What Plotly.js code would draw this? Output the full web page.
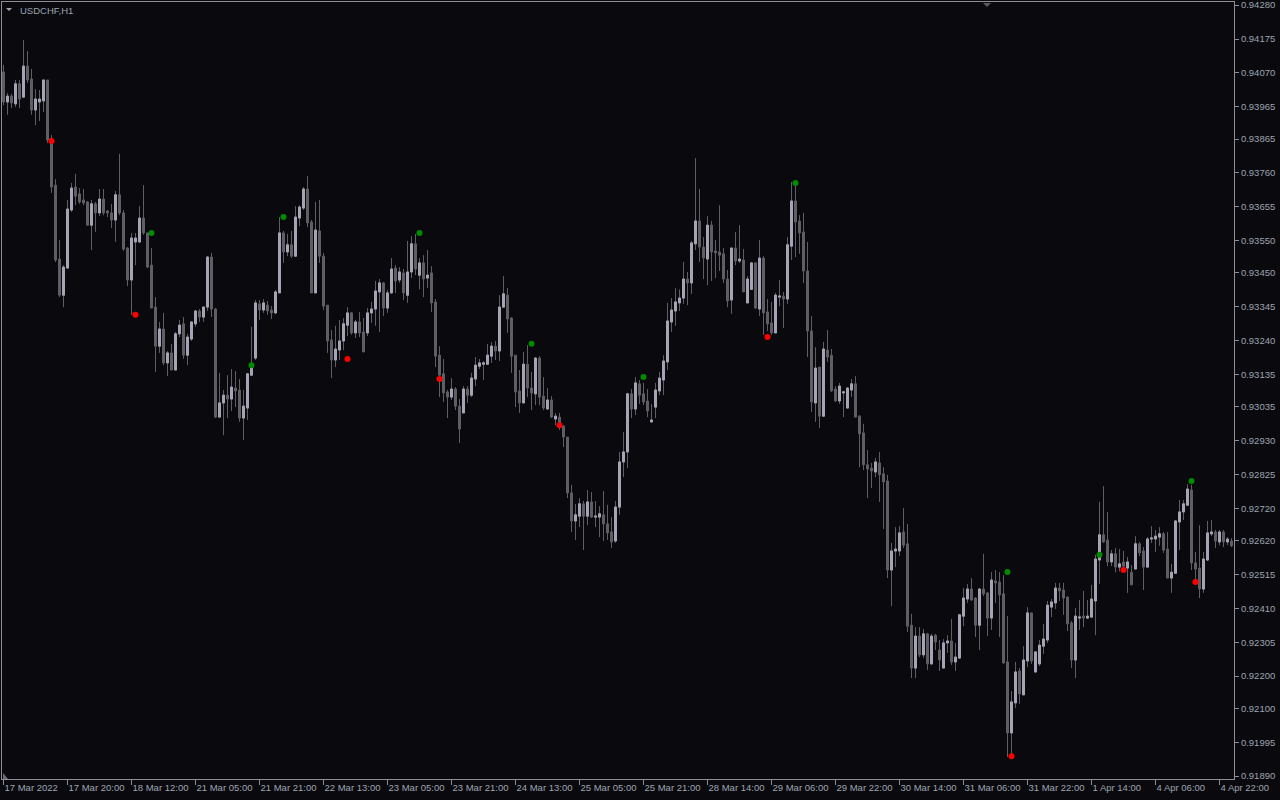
<!DOCTYPE html>
<html><head><meta charset="utf-8">
<script src="https://cdn.plot.ly/plotly-3.0.1.min.js"></script>
<style>html,body{margin:0;padding:0;background:#0a0a0e;overflow:hidden}#chart{width:1280px;height:800px}</style>
</head><body><div id="chart"></div>
<script>
// USDCHF H1 candles, one entry per hourly bar (17 Mar 2022 04:00 onward)
const openP=[0.94073,0.93980,0.93998,0.93974,0.94036,0.93995,0.94091,0.94051,0.93955,0.93980,
0.93983,0.94048,0.93853,0.93722,0.93493,0.93381,0.93465,0.93645,0.93716,0.93695,
0.93676,0.93670,0.93598,0.93664,0.93636,0.93679,0.93642,0.93636,0.93614,0.93692,
0.93636,0.93527,0.93428,0.93546,0.93546,0.93620,0.93574,0.93474,0.93344,0.93223,
0.93276,0.93171,0.93202,0.93149,0.93261,0.93292,0.93195,0.93245,0.93292,0.93332,
0.93313,0.93344,0.93499,0.93338,0.93003,0.93047,0.93071,0.93059,0.93093,0.93087,
0.93000,0.93031,0.93133,0.93186,0.93354,0.93335,0.93350,0.93335,0.93326,0.93388,
0.93574,0.93515,0.93537,0.93502,0.93620,0.93651,0.93710,0.93608,0.93388,0.93580,
0.93502,0.93350,0.93242,0.93180,0.93211,0.93239,0.93288,0.93326,0.93264,0.93298,
0.93267,0.93264,0.93326,0.93338,0.93391,0.93419,0.93341,0.93388,0.93465,0.93428,
0.93450,0.93381,0.93453,0.93540,0.93443,0.93481,0.93434,0.93450,0.93360,0.93195,
0.93137,0.93081,0.93065,0.93090,0.93037,0.93016,0.93090,0.93071,0.93121,0.93161,
0.93167,0.93167,0.93192,0.93223,0.93208,0.93344,0.93381,0.93310,0.93195,0.93084,
0.93047,0.93167,0.93093,0.93075,0.93186,0.93068,0.93028,0.93056,0.92997,0.93003,
0.92975,0.92941,0.92768,0.92681,0.92696,0.92734,0.92696,0.92740,0.92693,0.92693,
0.92700,0.92672,0.92647,0.92619,0.92724,0.92864,0.92895,0.93075,0.93028,0.93106,
0.93075,0.93053,0.92988,0.93034,0.93084,0.93118,0.93174,0.93298,0.93332,0.93357,
0.93372,0.93431,0.93419,0.93540,0.93611,0.93530,0.93493,0.93598,0.93518,0.93515,
0.93509,0.93431,0.93366,0.93527,0.93487,0.93490,0.93357,0.93399,0.93481,0.93338,
0.93496,0.93329,0.93295,0.93264,0.93375,0.93378,0.93369,0.93533,0.93673,0.93611,
0.93577,0.93456,0.93270,0.93047,0.93158,0.93006,0.93211,0.93195,0.93090,0.93053,
0.93078,0.93031,0.93087,0.93106,0.93006,0.92954,0.92855,0.92845,0.92833,0.92861,
0.92827,0.92805,0.92529,0.92588,0.92588,0.92647,0.92610,0.92358,0.92225,0.92324,
0.92266,0.92331,0.92238,0.92327,0.92281,0.92225,0.92303,0.92309,0.92244,0.92256,
0.92386,0.92439,0.92470,0.92442,0.92358,0.92470,0.92458,0.92380,0.92495,0.92492,
0.92455,0.92244,0.92024,0.92117,0.92216,0.92142,0.92247,0.92396,0.92213,0.92238,
0.92293,0.92312,0.92414,0.92427,0.92473,0.92467,0.92445,0.92365,0.92250,0.92380,
0.92386,0.92380,0.92383,0.92433,0.92560,0.92638,0.92622,0.92554,0.92579,0.92538,
0.92554,0.92535,0.92522,0.92532,0.92610,0.92588,0.92538,0.92625,0.92625,0.92631,
0.92641,0.92594,0.92504,0.92519,0.92678,0.92709,0.92730,0.92777,0.92551,0.92535,
0.92470,0.92560,0.92641,0.92647,0.92616,0.92647,0.92616,0.92619];
const highP=[0.94095,0.94008,0.94005,0.94048,0.94048,0.94172,0.94138,0.94082,0.94020,0.94017,
0.94048,0.94048,0.93877,0.93741,0.93552,0.93474,0.93676,0.93729,0.93757,0.93713,
0.93710,0.93673,0.93676,0.93670,0.93710,0.93710,0.93645,0.93664,0.93704,0.93819,
0.93645,0.93530,0.93574,0.93574,0.93657,0.93722,0.93574,0.93527,0.93375,0.93298,
0.93326,0.93208,0.93230,0.93267,0.93304,0.93313,0.93261,0.93298,0.93335,0.93338,
0.93347,0.93502,0.93512,0.93341,0.93140,0.93087,0.93133,0.93152,0.93146,0.93121,
0.93087,0.93140,0.93283,0.93366,0.93366,0.93369,0.93363,0.93347,0.93397,0.93623,
0.93580,0.93571,0.93580,0.93657,0.93660,0.93716,0.93750,0.93614,0.93670,0.93676,
0.93512,0.93350,0.93273,0.93286,0.93304,0.93310,0.93344,0.93329,0.93304,0.93329,
0.93310,0.93341,0.93360,0.93425,0.93431,0.93422,0.93397,0.93496,0.93474,0.93468,
0.93462,0.93549,0.93564,0.93571,0.93496,0.93505,0.93521,0.93471,0.93369,0.93223,
0.93183,0.93087,0.93124,0.93096,0.93059,0.93099,0.93099,0.93140,0.93189,0.93183,
0.93177,0.93230,0.93236,0.93239,0.93381,0.93440,0.93403,0.93313,0.93195,0.93149,
0.93205,0.93226,0.93143,0.93189,0.93192,0.93127,0.93093,0.93068,0.93016,0.93016,
0.92978,0.92941,0.92793,0.92734,0.92752,0.92743,0.92777,0.92771,0.92743,0.92727,
0.92774,0.92731,0.92693,0.92743,0.92895,0.92957,0.93078,0.93090,0.93127,0.93118,
0.93109,0.93090,0.93044,0.93109,0.93143,0.93195,0.93357,0.93372,0.93403,0.93399,
0.93484,0.93453,0.93549,0.93806,0.93710,0.93561,0.93626,0.93611,0.93552,0.93660,
0.93527,0.93459,0.93527,0.93577,0.93598,0.93524,0.93440,0.93484,0.93484,0.93552,
0.93502,0.93369,0.93360,0.93388,0.93428,0.93391,0.93561,0.93732,0.93722,0.93629,
0.93636,0.93546,0.93316,0.93220,0.93158,0.93236,0.93273,0.93214,0.93099,0.93109,
0.93081,0.93096,0.93121,0.93130,0.93009,0.92982,0.92901,0.92861,0.92876,0.92895,
0.92848,0.92824,0.92613,0.92662,0.92665,0.92721,0.92672,0.92393,0.92352,0.92352,
0.92346,0.92334,0.92331,0.92331,0.92312,0.92315,0.92327,0.92377,0.92303,0.92390,
0.92473,0.92486,0.92504,0.92445,0.92473,0.92579,0.92461,0.92523,0.92529,0.92523,
0.92513,0.92386,0.92154,0.92244,0.92225,0.92293,0.92414,0.92396,0.92278,0.92312,
0.92362,0.92433,0.92439,0.92489,0.92489,0.92489,0.92448,0.92371,0.92411,0.92436,
0.92464,0.92436,0.92483,0.92576,0.92740,0.92789,0.92709,0.92591,0.92597,0.92594,
0.92588,0.92569,0.92544,0.92634,0.92616,0.92600,0.92631,0.92665,0.92653,0.92662,
0.92647,0.92647,0.92548,0.92684,0.92746,0.92746,0.92795,0.92793,0.92585,0.92668,
0.92585,0.92681,0.92684,0.92653,0.92653,0.92653,0.92631,0.92628];
const lowP=[0.93970,0.93940,0.93961,0.93964,0.93961,0.93992,0.94039,0.93940,0.93908,0.93921,
0.93949,0.93853,0.93698,0.93484,0.93375,0.93344,0.93465,0.93639,0.93660,0.93664,
0.93660,0.93598,0.93521,0.93577,0.93626,0.93629,0.93623,0.93589,0.93546,0.93629,
0.93518,0.93409,0.93320,0.93474,0.93543,0.93568,0.93465,0.93341,0.93143,0.93202,
0.93164,0.93130,0.93149,0.93149,0.93251,0.93183,0.93164,0.93239,0.93283,0.93298,
0.93298,0.93332,0.93313,0.93000,0.93003,0.92947,0.93000,0.93022,0.93034,0.92988,
0.92932,0.92994,0.93130,0.93180,0.93304,0.93326,0.93320,0.93307,0.93323,0.93388,
0.93481,0.93502,0.93496,0.93499,0.93595,0.93645,0.93592,0.93388,0.93388,0.93481,
0.93335,0.93202,0.93124,0.93158,0.93180,0.93211,0.93254,0.93258,0.93248,0.93251,
0.93205,0.93254,0.93295,0.93286,0.93267,0.93316,0.93326,0.93385,0.93388,0.93419,
0.93366,0.93357,0.93434,0.93443,0.93399,0.93375,0.93403,0.93329,0.93158,0.93065,
0.93050,0.93000,0.93056,0.93025,0.92923,0.93016,0.93047,0.93065,0.93099,0.93152,
0.93118,0.93167,0.93171,0.93180,0.93177,0.93341,0.93264,0.93140,0.93034,0.93016,
0.93047,0.93065,0.93025,0.93040,0.93040,0.93025,0.93028,0.93000,0.92978,0.92963,
0.92910,0.92752,0.92647,0.92622,0.92662,0.92591,0.92668,0.92690,0.92662,0.92631,
0.92619,0.92622,0.92597,0.92613,0.92700,0.92817,0.92845,0.93000,0.93009,0.93044,
0.93040,0.93003,0.92988,0.93000,0.93071,0.93071,0.93149,0.93267,0.93286,0.93332,
0.93354,0.93350,0.93385,0.93521,0.93484,0.93431,0.93412,0.93425,0.93434,0.93456,
0.93419,0.93344,0.93323,0.93474,0.93481,0.93391,0.93357,0.93397,0.93338,0.93316,
0.93258,0.93270,0.93258,0.93264,0.93347,0.93279,0.93354,0.93490,0.93499,0.93509,
0.93419,0.93189,0.93019,0.92988,0.92969,0.93003,0.93174,0.93081,0.93050,0.93044,
0.93003,0.93031,0.93065,0.93003,0.92848,0.92839,0.92752,0.92783,0.92817,0.92740,
0.92656,0.92504,0.92417,0.92538,0.92572,0.92597,0.92337,0.92194,0.92194,0.92259,
0.92256,0.92219,0.92235,0.92281,0.92216,0.92225,0.92272,0.92235,0.92216,0.92253,
0.92355,0.92427,0.92433,0.92321,0.92281,0.92448,0.92324,0.92343,0.92427,0.92321,
0.92238,0.91949,0.91943,0.92101,0.92114,0.92142,0.92228,0.92238,0.92210,0.92231,
0.92269,0.92303,0.92383,0.92408,0.92433,0.92390,0.92340,0.92225,0.92194,0.92343,
0.92352,0.92377,0.92380,0.92327,0.92486,0.92613,0.92541,0.92541,0.92522,0.92525,
0.92522,0.92458,0.92483,0.92532,0.92572,0.92467,0.92538,0.92613,0.92585,0.92604,
0.92582,0.92504,0.92458,0.92519,0.92591,0.92684,0.92730,0.92529,0.92489,0.92442,
0.92458,0.92557,0.92634,0.92597,0.92606,0.92600,0.92606,0.92600];
const closeP=[0.93980,0.93998,0.93977,0.94036,0.93989,0.94091,0.94048,0.93955,0.93989,0.93989,
0.94048,0.93862,0.93716,0.93490,0.93381,0.93468,0.93648,0.93713,0.93688,0.93670,
0.93667,0.93598,0.93664,0.93636,0.93679,0.93636,0.93636,0.93614,0.93692,0.93636,
0.93524,0.93428,0.93558,0.93558,0.93620,0.93574,0.93468,0.93341,0.93223,0.93276,
0.93171,0.93202,0.93149,0.93261,0.93288,0.93195,0.93251,0.93298,0.93332,0.93313,
0.93344,0.93499,0.93338,0.93003,0.93047,0.93071,0.93059,0.93096,0.93084,0.93000,
0.93037,0.93137,0.93158,0.93357,0.93335,0.93357,0.93332,0.93326,0.93391,0.93574,
0.93515,0.93537,0.93502,0.93623,0.93654,0.93710,0.93605,0.93388,0.93583,0.93502,
0.93347,0.93239,0.93180,0.93214,0.93239,0.93292,0.93326,0.93264,0.93298,0.93264,
0.93205,0.93326,0.93338,0.93394,0.93419,0.93341,0.93388,0.93462,0.93425,0.93453,
0.93388,0.93453,0.93540,0.93462,0.93481,0.93431,0.93443,0.93357,0.93192,0.93133,
0.93078,0.93065,0.93090,0.93037,0.92966,0.93090,0.93071,0.93124,0.93164,0.93171,
0.93171,0.93195,0.93223,0.93208,0.93344,0.93385,0.93307,0.93192,0.93081,0.93047,
0.93167,0.93093,0.93078,0.93186,0.93065,0.93031,0.93056,0.93003,0.93006,0.92978,
0.92941,0.92768,0.92681,0.92700,0.92734,0.92696,0.92740,0.92693,0.92696,0.92703,
0.92672,0.92644,0.92616,0.92724,0.92864,0.92895,0.93075,0.93028,0.93109,0.93071,
0.93050,0.93022,0.92994,0.93087,0.93124,0.93177,0.93301,0.93335,0.93360,0.93372,
0.93431,0.93419,0.93543,0.93611,0.93530,0.93496,0.93598,0.93515,0.93512,0.93505,
0.93431,0.93363,0.93527,0.93487,0.93493,0.93391,0.93431,0.93481,0.93341,0.93496,
0.93326,0.93292,0.93264,0.93381,0.93378,0.93369,0.93537,0.93673,0.93608,0.93574,
0.93456,0.93270,0.93050,0.93155,0.93006,0.93214,0.93189,0.93084,0.93053,0.93099,
0.93081,0.93093,0.93106,0.93003,0.92951,0.92855,0.92842,0.92836,0.92864,0.92824,
0.92802,0.92529,0.92588,0.92594,0.92644,0.92606,0.92355,0.92225,0.92324,0.92266,
0.92331,0.92238,0.92324,0.92306,0.92250,0.92303,0.92309,0.92244,0.92259,0.92390,
0.92442,0.92470,0.92436,0.92358,0.92470,0.92455,0.92380,0.92498,0.92489,0.92452,
0.92241,0.92024,0.92120,0.92213,0.92145,0.92250,0.92396,0.92247,0.92275,0.92296,
0.92315,0.92420,0.92430,0.92473,0.92464,0.92442,0.92362,0.92250,0.92386,0.92383,
0.92380,0.92386,0.92439,0.92563,0.92638,0.92616,0.92554,0.92579,0.92538,0.92548,
0.92541,0.92554,0.92483,0.92610,0.92582,0.92538,0.92625,0.92628,0.92634,0.92641,
0.92591,0.92504,0.92522,0.92681,0.92709,0.92734,0.92780,0.92551,0.92532,0.92470,
0.92563,0.92644,0.92647,0.92619,0.92647,0.92616,0.92625,0.92604];

// indicator dots (bar index, price)
const redIdx=[12,33,86,109,139,191,252,280,298];
const redVal=[0.93859,0.93320,0.93183,0.93121,0.92978,0.93251,0.91952,0.92529,0.92492];
const greenIdx=[37,62,70,104,132,160,198,251,274,297];
const greenVal=[0.93574,0.93164,0.93623,0.93574,0.93230,0.93127,0.93729,0.92523,0.92576,0.92805];

// axis labels
const timeTickIdx=[0,16,32,48,64,80,96,112,128,144,160,176,192,208,224,240,256,272,288,304];
const timeTickText=['17 Mar 2022','17 Mar 20:00','18 Mar 12:00','21 Mar 05:00','21 Mar 21:00','22 Mar 13:00','23 Mar 05:00','23 Mar 21:00','24 Mar 13:00','25 Mar 05:00','25 Mar 21:00','28 Mar 14:00','29 Mar 06:00','29 Mar 22:00','30 Mar 14:00','31 Mar 06:00','31 Mar 22:00','1 Apr 14:00','4 Apr 06:00','4 Apr 22:00'];
const priceTickText=['0.94280','0.94175','0.94070','0.93965','0.93865','0.93760','0.93655','0.93550','0.93450','0.93345','0.93240','0.93135','0.93035','0.92930','0.92825','0.92720','0.92620','0.92515','0.92410','0.92305','0.92200','0.92100','0.91995','0.91890'];

const idx=openP.map((_,i)=>i);
const bodyHi=openP.map((o,i)=>Math.max(o,closeP[i]));
const bodyLo=openP.map((o,i)=>Math.min(o,closeP[i]));

const BG='#0a0a0e', AX='#8e8e94', TXT='#9ea4b2', WICK='#5e5e64', BULL='#a4a4b4';
const FONT='Liberation Sans, Arial, sans-serif';

const traces=[
 {type:'candlestick',x:idx,open:openP,high:highP,low:lowP,close:closeP,
  increasing:{line:{color:WICK,width:1},fillcolor:WICK},
  decreasing:{line:{color:WICK,width:1},fillcolor:WICK},
  whiskerwidth:0,hoverinfo:'skip',showlegend:false},
 {type:'candlestick',x:idx,open:openP,high:bodyHi,low:bodyLo,close:closeP,
  increasing:{line:{color:BULL,width:1},fillcolor:BULL},
  decreasing:{line:{color:'rgba(0,0,0,0)',width:0},fillcolor:'rgba(0,0,0,0)'},
  whiskerwidth:0,hoverinfo:'skip',showlegend:false},
 {type:'scatter',mode:'markers',x:redIdx,y:redVal,marker:{color:'#ff0000',size:6},hoverinfo:'skip',showlegend:false},
 {type:'scatter',mode:'markers',x:greenIdx,y:greenVal,marker:{color:'#008a00',size:6},hoverinfo:'skip',showlegend:false}
];

function px(x){return (x-2)/1232;}
function py(y){return (779-y)/777;}
function tri(pts){return 'M'+pts.map(p=>px(p[0])+','+py(p[1])).join(' L')+' Z';}

const layout={
 width:1280,height:800,
 paper_bgcolor:BG,plot_bgcolor:BG,
 margin:{l:2,r:46,t:2,b:21,pad:0},
 showlegend:false,
 boxgap:0.5,boxgroupgap:0,
 xaxis:{type:'linear',range:[-0.375,307.625],tickvals:timeTickIdx,ticktext:timeTickText,
  ticks:'outside',ticklen:5,tickcolor:AX,tickwidth:1,showline:true,linecolor:AX,linewidth:1,mirror:true,
  showgrid:false,zeroline:false,rangeslider:{visible:false},fixedrange:true,
  tickangle:0,ticklabelposition:'outside right',ticklabeloverflow:'allow',automargin:false,
  tickfont:{family:FONT,size:9.5,color:TXT}},
 yaxis:{side:'right',range:[0.918811,0.942898],tickvals:priceTickText.map(Number),ticktext:priceTickText,
  ticks:'outside',ticklen:4,tickcolor:AX,tickwidth:1,showline:true,linecolor:AX,linewidth:1,mirror:true,
  showgrid:false,zeroline:false,fixedrange:true,ticklabeloverflow:'allow',automargin:false,
  tickfont:{family:FONT,size:9.5,color:TXT}},
 annotations:[
  {xref:'paper',yref:'paper',x:px(18),y:py(10),xanchor:'left',yanchor:'middle',text:'USDCHF,H1',showarrow:false,
   font:{family:FONT,size:9.5,color:TXT}}
 ],
 shapes:[
  {type:'path',xref:'paper',yref:'paper',path:tri([[6,8],[12,8],[9,11]]),fillcolor:TXT,line:{width:0}},
  {type:'path',xref:'paper',yref:'paper',path:tri([[983,3],[991,3],[987,7]]),fillcolor:'#5a5a62',line:{width:0}},
  {type:'path',xref:'paper',yref:'paper',path:tri([[3,773],[8,779],[3,779]]),fillcolor:'#6a6a7a',line:{width:0}}
 ]
};

Plotly.newPlot('chart',traces,layout,{staticPlot:true,displayModeBar:false});
</script>
</body></html>
